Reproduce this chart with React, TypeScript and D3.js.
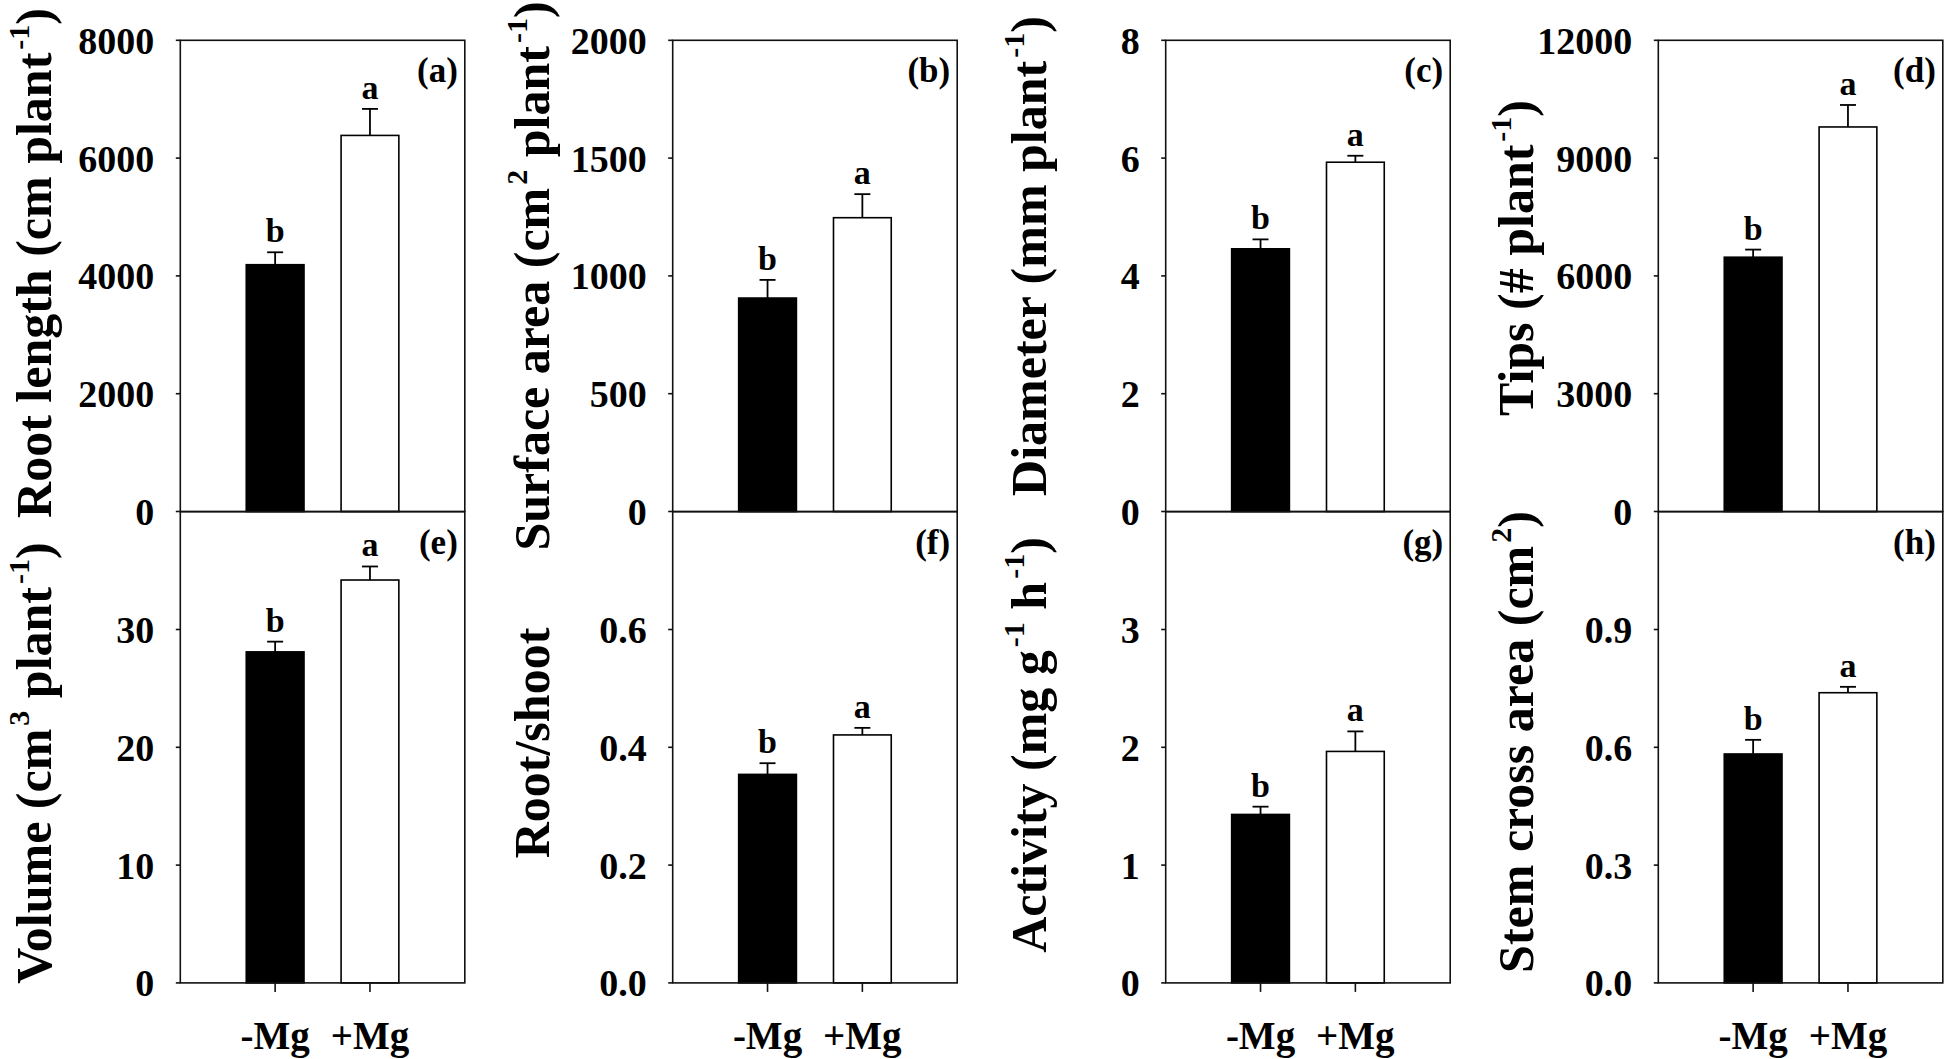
import React from 'react';
import * as d3 from 'd3';

// ---------- data ----------
const groups = ['-Mg', '+Mg'];

const rootLength = [4190, 6385];
const rootLengthSE = [211, 450];
const surfaceArea = [906, 1247];
const surfaceAreaSE = [77, 100];
const diameter = [4.46, 5.93];
const diameterSE = [0.16, 0.11];
const tips = [6476, 9793];
const tipsSE = [194, 560];
const volume = [28.1, 34.2];
const volumeSE = [0.87, 1.15];
const rootShoot = [0.354, 0.421];
const rootShootSE = [0.019, 0.012];
const activity = [1.43, 1.965];
const activitySE = [0.066, 0.17];
const stemArea = [0.583, 0.739];
const stemAreaSE = [0.036, 0.015];

const sigLetters = ['b', 'a'];

const ticksA = [0, 2000, 4000, 6000, 8000];
const ticksB = [0, 500, 1000, 1500, 2000];
const ticksC = [0, 2, 4, 6, 8];
const ticksD = [0, 3000, 6000, 9000, 12000];
const ticksE = [0, 10, 20, 30];
const ticksF = [0, 0.2, 0.4, 0.6];
const ticksG = [0, 1, 2, 3];
const ticksH = [0, 0.3, 0.6, 0.9];

type Seg = { t: string; sup?: boolean };
const titleA: Seg[] = [{ t: 'Root length (cm plant' }, { t: '-1', sup: true }, { t: ')' }];
const titleB: Seg[] = [{ t: 'Surface area (cm' }, { t: '2', sup: true }, { t: ' plant' }, { t: '-1', sup: true }, { t: ')' }];
const titleC: Seg[] = [{ t: 'Diameter (mm plant' }, { t: '-1', sup: true }, { t: ')' }];
const titleD: Seg[] = [{ t: 'Tips (# plant' }, { t: '-1', sup: true }, { t: ')' }];
const titleE: Seg[] = [{ t: 'Volume (cm' }, { t: '3', sup: true }, { t: ' plant' }, { t: '-1', sup: true }, { t: ')' }];
const titleF: Seg[] = [{ t: 'Root/shoot' }];
const titleG: Seg[] = [{ t: 'Activity (mg g' }, { t: '-1', sup: true }, { t: ' h' }, { t: '-1', sup: true }, { t: ')' }];
const titleH: Seg[] = [{ t: 'Stem cross area (cm' }, { t: '2', sup: true }, { t: ')' }];

type Panel = {
  id: string;
  values: number[];
  se: number[];
  max: number;
  ticks: number[];
  fmt: string;
  title: Seg[];
  col: number;
  row: number;
  titleX: number;
  titleY: number;
};

const panels: Panel[] = [
  { id: '(a)', values: rootLength, se: rootLengthSE, max: 8000, ticks: ticksA, fmt: 'd', title: titleA, col: 0, row: 0, titleX: 51, titleY: 263 },
  { id: '(b)', values: surfaceArea, se: surfaceAreaSE, max: 2000, ticks: ticksB, fmt: 'd', title: titleB, col: 1, row: 0, titleX: 549, titleY: 276 },
  { id: '(c)', values: diameter, se: diameterSE, max: 8, ticks: ticksC, fmt: 'd', title: titleC, col: 2, row: 0, titleX: 1046, titleY: 256 },
  { id: '(d)', values: tips, se: tipsSE, max: 12000, ticks: ticksD, fmt: 'd', title: titleD, col: 3, row: 0, titleX: 1533, titleY: 258 },
  { id: '(e)', values: volume, se: volumeSE, max: 40, ticks: ticksE, fmt: 'd', title: titleE, col: 0, row: 1, titleX: 51, titleY: 763 },
  { id: '(f)', values: rootShoot, se: rootShootSE, max: 0.8, ticks: ticksF, fmt: '.1f', title: titleF, col: 1, row: 1, titleX: 549, titleY: 743 },
  { id: '(g)', values: activity, se: activitySE, max: 4, ticks: ticksG, fmt: 'd', title: titleG, col: 2, row: 1, titleX: 1046, titleY: 745 },
  { id: '(h)', values: stemArea, se: stemAreaSE, max: 1.2, ticks: ticksH, fmt: '.1f', title: titleH, col: 3, row: 1, titleX: 1533, titleY: 742 },
];

// ---------- layout ----------
const colLeft = [180.3, 672.7, 1165.7, 1658.3];
const panelW = 284.5;
const rowTop = [40.3, 511.7];
const panelH = 471.2;
const FONT = '"Liberation Serif", "Times New Roman", Times, serif';

function Title({ p }: { p: Panel }) {
  const parts: React.ReactNode[] = [];
  let raised = false;
  p.title.forEach((s, i) => {
    let dy = 0;
    if (s.sup && !raised) { dy = -22; raised = true; }
    else if (!s.sup && raised) { dy = 22; raised = false; }
    parts.push(
      <tspan key={i} dy={dy} fontSize={s.sup ? 30 : 50} dx={s.sup ? 3 : 0}>{s.t}</tspan>
    );
  });
  return (
    <text
      transform={`translate(${p.titleX},${p.titleY}) rotate(-90)`}
      textAnchor="middle"
      fontFamily={FONT}
      fontWeight="bold"
      fontSize={50}
      fill="#000"
    >
      {parts}
    </text>
  );
}

function PanelView({ p }: { p: Panel }) {
  const left = colLeft[p.col];
  const top = rowTop[p.row];
  const bottom = top + panelH;
  const y = d3.scaleLinear().domain([0, p.max]).range([bottom, top]);
  const x = d3.scaleBand<string>().domain(groups).range([left, left + panelW]).paddingInner(0.391).paddingOuter(0.6955);
  const bw = x.bandwidth();
  const fmt = d3.format(p.fmt);
  return (
    <g>
      {p.values.map((v, i) => {
        const g = groups[i];
        const x0 = x(g)!;
        const cx = x0 + bw / 2;
        const yTop = y(v);
        const yErr = y(v + p.se[i]);
        return (
          <g key={g}>
            <rect x={x0} y={yTop} width={bw} height={bottom - yTop}
              fill={i === 0 ? '#000' : '#fff'} stroke="#000" strokeWidth={1.6} />
            <line x1={cx} x2={cx} y1={yTop} y2={yErr} stroke="#000" strokeWidth={1.8} />
            <line x1={cx - 8} x2={cx + 8} y1={yErr} y2={yErr} stroke="#000" strokeWidth={1.8} />
            <text x={cx} y={yErr - 10} textAnchor="middle" fontFamily={FONT} fontWeight="bold" fontSize={34}>{sigLetters[i]}</text>
          </g>
        );
      })}
      <rect x={left} y={top} width={panelW} height={panelH} fill="none" stroke="#111" strokeWidth={1.6} />
      {p.ticks.map((t) => (
        <g key={t}>
          <line x1={left - 4.5} x2={left} y1={y(t)} y2={y(t)} stroke="#111" strokeWidth={1.6} />
          <text x={left - 26} y={y(t) + 13.5} textAnchor="end" fontFamily={FONT} fontWeight="bold" fontSize={38}>{fmt(t)}</text>
        </g>
      ))}
      <text x={left + panelW - 7} y={top + 42} textAnchor="end" fontFamily={FONT} fontWeight="bold" fontSize={35}>{p.id}</text>
      {p.row === 1 && groups.map((g) => {
        const cx = x(g)! + bw / 2;
        return (
          <g key={g}>
            <line x1={cx} x2={cx} y1={bottom} y2={bottom + 9} stroke="#111" strokeWidth={1.6} />
            <text x={cx} y={1049} textAnchor="middle" fontFamily={FONT} fontWeight="bold" fontSize={39}>{g}</text>
          </g>
        );
      })}
      <Title p={p} />
    </g>
  );
}

export default function App() {
  return (
    <div style={{ position: 'absolute', left: 0, top: 0 }}>
      <svg width={1944} height={1059} viewBox="0 0 1944 1059" style={{ display: 'block', background: '#fff' }}>
        <rect x={0} y={0} width={1944} height={1059} fill="#fff" />
        {panels.map((p) => <PanelView key={p.id} p={p} />)}
      </svg>
    </div>
  );
}
